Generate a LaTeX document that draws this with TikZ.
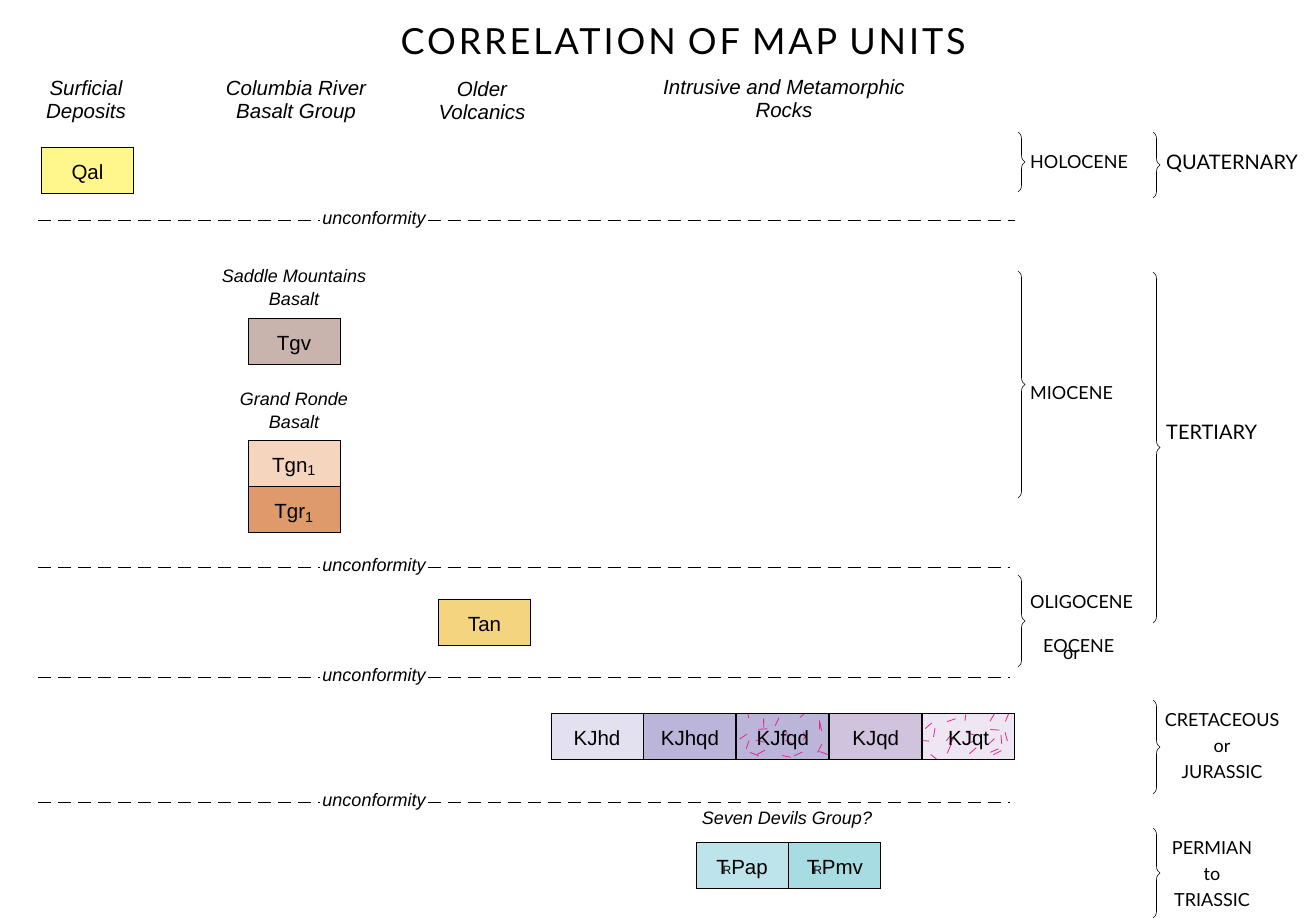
\documentclass[tikz,border=0pt]{standalone}
\usepackage{fontspec}
\setmainfont{Liberation Sans}
\newfontfamily\epochfont{Lato}
\newfontfamily\titlefont[LetterSpace=8]{Lato}
\usetikzlibrary{positioning, calc, decorations.pathreplacing}

\definecolor{qalcol}{HTML}{FFF68C}
\definecolor{tgvcol}{HTML}{C8B4AD}
\definecolor{tgncol}{HTML}{F5D5BD}
\definecolor{tgrcol}{HTML}{DE9A6A}
\definecolor{tancol}{HTML}{F5D480}
\definecolor{kjhdcol}{HTML}{E3E1F0}
\definecolor{kjhqdcol}{HTML}{BBB5DA}
\definecolor{kjqdcol}{HTML}{CFC3DE}
\definecolor{kjqtcol}{HTML}{EEE6F2}
\definecolor{trpapcol}{HTML}{BDE4EA}
\definecolor{trpmvcol}{HTML}{A6DCE2}
\definecolor{dashpink}{HTML}{E0288C}

\newcommand{\triassic}{T\kern-0.3em{\fontsize{12}{12}\selectfont R}}

\tikzset{
	unit/.style={draw, line width=0.9pt, minimum width=92pt, minimum height=46pt, inner sep=0pt,
		text height=18pt, text depth=0pt, font=\fontsize{20.5}{24}\selectfont},
	colhead/.style={align=center, font=\fontsize{20.5}{23}\selectfont\itshape},
	subhead/.style={align=center, font=\fontsize{18}{23}\selectfont\itshape},
	uncon/.style={dash pattern=on 13pt off 7pt, line width=0.8pt},
	epoch/.style={anchor=west, inner sep=0pt, font=\epochfont\fontsize{18}{26}\selectfont},
	period/.style={align=center, inner sep=0pt, font=\epochfont\fontsize{18}{26}\selectfont},
	bigperiod/.style={epoch, font=\epochfont\fontsize{20}{26}\selectfont},
	agebrace/.style={decorate, decoration={brace, amplitude=7pt}, line width=0.6pt},
	flecks/.style={dashpink, line width=0.8pt},
	% pink flecks on a jittered grid over the box
	speckled/.style={path picture={
		\foreach \i in {0,...,4}
			\foreach \j in {0,...,3}
				\draw[flecks] ($(path picture bounding box.south west)+({6+18*\i+8*rnd},{-3-11*\j-6*rnd})$)
					-- ++({360*rnd}:9);
	}}
}

\begin{document}
\begin{tikzpicture}[x=1pt, y=-1pt]
	\useasboundingbox (0,0) rectangle (1309,921);
	\pgfmathsetseed{23}
	
	% Title and column headings
	\node (title) at (683,42) {\titlefont\fontsize{36}{40}\selectfont CORRELATION OF MAP UNITS};
	\node[colhead] (hsurf) at (86,102) {Surficial\\Deposits};
	\node[colhead] (hcrbg) at (296,102) {Columbia River\\Basalt Group};
	\node[colhead] (hold) at (482,101) {Older\\Volcanics};
	\node[colhead] (hintr) at (784,99) {Intrusive and Metamorphic\\Rocks};
	
	% Map units
	\node[unit, fill=qalcol] (qal) at (87.5,170) {Qal};
	\node[subhead] (hsaddle) at (294,288) {Saddle Mountains\\Basalt};
	\node[unit, fill=tgvcol] (tgv) at (294,341) {Tgv};
	\node[subhead] (hgrande) at (294,411) {Grand Ronde\\Basalt};
	\node[unit, fill=tgncol] (tgn) at (294,463) {Tgn\textsubscript{1}};
	\node[unit, fill=tgrcol, below=0pt of tgn] (tgr) {Tgr\textsubscript{1}};
	\node[unit, fill=tancol] (tan) at (484.5,622) {Tan};
	
	\node[unit, fill=kjhdcol] (kjhd) at (597,736) {KJhd};
	\node[unit, fill=kjhqdcol, right=0pt of kjhd] (kjhqd) {KJhqd};
	\node[unit, fill=kjhqdcol, speckled, right=0pt of kjhqd] (kjfqd) {KJfqd};
	\node[unit, fill=kjqdcol, right=0pt of kjfqd] (kjqd) {KJqd};
	\node[unit, fill=kjqtcol, speckled, right=0pt of kjqd] (kjqt) {KJqt};
	
	\node[subhead] (hseven) at (787,820) {Seven Devils Group?};
	\node[unit, fill=trpapcol] (trpap) at (742,865) {\triassic Pap};
	\node[unit, fill=trpmvcol, right=0pt of trpap] (trpmv) {\triassic Pmv};
	
	% Unconformities
	\foreach \name/\y/\xe in {ua/220/1015, ub/567/1010, uc/677/1010, ud/802/1010} {
		\coordinate (\name w) at (38,\y);
		\coordinate (\name e) at (\xe,\y);
		\node[inner sep=2pt, font=\fontsize{18}{20}\selectfont\itshape] (\name) at (374,\y) {unconformity};
		\draw[uncon] (\name w) -- (\name.west);
		\draw[uncon] (\name.east) -- (\name e);
	}
	
	% Epochs
	\coordinate (holt) at (1018,132);
	\coordinate (holb) at (1018,192);
	\draw[agebrace] (holt) -- (holb);
	\node[epoch] (holocene) at (1030,162) {HOLOCENE};
	
	\coordinate (miot) at (1018,271);
	\coordinate (miob) at (1018,498);
	\draw[agebrace] (miot) -- (miob);
	\node[epoch] (miocene) at (1030,393) {MIOCENE};
	
	\coordinate (oligt) at (1018,575);
	\coordinate (oligb) at (1018,667);
	\draw[agebrace] (oligt) -- (oligb);
	\node[epoch] (oligocene) at (1030,602) {OLIGOCENE};
	\node[epoch] (eocene) at (1043,646) {EOCENE};
	\node[epoch] (eocor) at (1063,655) {or};
	
	% Periods
	\coordinate (quatt) at (1153,132);
	\coordinate (quatb) at (1153,198);
	\draw[agebrace] (quatt) -- (quatb);
	\node[bigperiod] (quaternary) at (1166,164) {QUATERNARY};
	
	\coordinate (tertt) at (1153,272);
	\coordinate (tertb) at (1153,623);
	\draw[agebrace] (tertt) -- (tertb);
	\node[bigperiod] (tertiary) at (1166,432) {TERTIARY};
	
	\coordinate (cjt) at (1153,700);
	\coordinate (cjb) at (1153,794);
	\draw[agebrace] (cjt) -- (cjb);
	\node[period] (cretjur) at (1222,746) {CRETACEOUS\\or\\JURASSIC};
	
	\coordinate (prt) at (1153,828);
	\coordinate (prb) at (1153,918);
	\draw[agebrace] (prt) -- (prb);
	\node[period] (permtri) at (1212,874) {PERMIAN\\to\\TRIASSIC};
\end{tikzpicture}
\end{document}
